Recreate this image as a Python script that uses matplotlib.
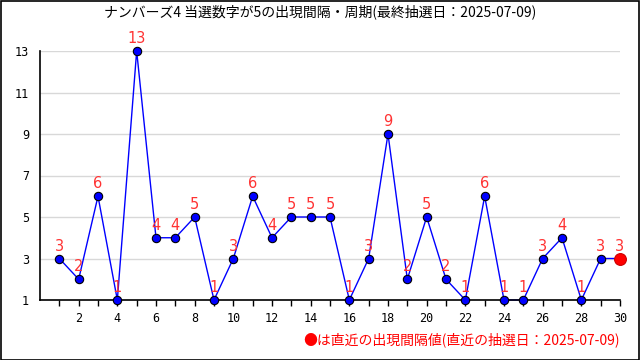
import matplotlib
matplotlib.use("Agg")
import matplotlib.pyplot as plt
from matplotlib.patches import Rectangle

plt.rcParams['font.family'] = ['Noto Sans CJK JP', 'DejaVu Sans']

x = list(range(1, 31))
values = [3, 2, 6, 1, 13, 4, 4, 5, 1, 3, 6, 4, 5, 5, 5, 1, 3, 9, 2, 5, 2, 1, 6, 1, 1, 3, 4, 1, 3, 3]
title = "ナンバーズ4 当選数字が5の出現間隔・周期(最終抽選日：2025-07-09)"
note = "●は直近の出現間隔値(直近の抽選日：2025-07-09)"
yticks = [1, 3, 5, 7, 9, 11, 13]

fig = plt.figure(figsize=(6.4, 3.6), dpi=100)
ax = fig.add_axes([40/640, 60/360, 580/640, 249/360])

ax.plot(x, values, color='#0000ff', lw=1, zorder=2, clip_on=False)
ax.plot(x[:-1], values[:-1], 'o', color='#0000ff', mec='black', mew=0.8, ms=6, zorder=3, clip_on=False)
ax.plot(x[-1:], values[-1:], 'o', color='#ff0000', mec='#cc0000', mew=0.8, ms=8.5, zorder=3, clip_on=False)

for xi, v in zip(x, values):
    ax.annotate(str(v), (xi, v), xytext=(0, 3.5), textcoords='offset points',
                ha='center', va='bottom', color='#ff3333', fontsize=10.5,
                family=['DejaVu Sans'], zorder=4, annotation_clip=False)

ax.set_xlim(0, 30)
ax.set_ylim(1, 13)
ax.set_yticks(yticks)
ax.set_yticklabels([str(t) for t in yticks], family=['DejaVu Sans Mono'], fontsize=8.5)
ax.set_xticks(x)
ax.set_xticklabels([str(t) if t % 2 == 0 else '' for t in x], family=['DejaVu Sans Mono'], fontsize=8.5)
ax.yaxis.grid(True, color='#d8d8d8', lw=1)
ax.set_axisbelow(True)
for s in ['top', 'right']:
    ax.spines[s].set_visible(False)
ax.spines['left'].set_linewidth(1.2)
ax.spines['bottom'].set_linewidth(1.2)
ax.tick_params(axis='x', direction='out', length=4, width=1, pad=5)
ax.tick_params(axis='y', length=0, pad=8)

fig.text(0.5, 1 - 12/360, title, ha='center', va='center', fontsize=10, color='black')
fig.text(620/640, 1 - 340/360, note, ha='right', va='center', fontsize=10, color='#ff0000')

fig.patches.append(Rectangle((0.5/640, 0.5/360), 1 - 1.5/640, 1 - 1.5/360,
                             transform=fig.transFigure, fill=False, ec='black', lw=1.2))

fig.savefig('out.png', dpi=100)
